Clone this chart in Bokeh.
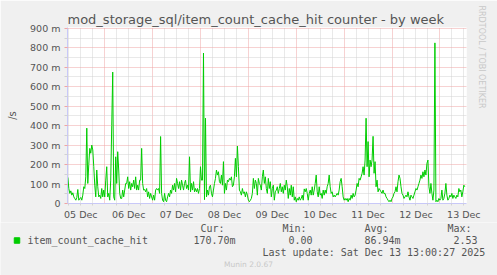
from datetime import datetime, timedelta
from bokeh.plotting import figure
from bokeh.layouts import column
from bokeh.models import Range1d, FixedTicker, DatetimeTickFormatter, Title
from bokeh.core.properties import value
from bokeh.embed import file_html
from bokeh.resources import INLINE

title_text = "mod_storage_sql/item_count_cache_hit counter - by week"
series_name = "item_count_cache_hit"
unit_label = "/s"
start_time = datetime(2025, 12, 5, 5, 30)
step_minutes = 30

# values in milli-units (m), one per 30-minute sample
values_m = [
    134, 77, 52, 65, 43, 55, 34, 25, 17, 31, 72, 17, 25, 31, 17, 43, 86, 77, 137, 387,
    103, 200, 283, 258, 300, 275, 189, 94, 34, 172, 86, 34, 43, 26, 77, 34, 69, 34, 120, 189,
    34, 52, 17, 120, 400, 675, 34, 17, 240, 103, 266, 172, 52, 26, 26, 69, 34, 69, 103, 103,
    137, 77, 112, 69, 103, 86, 120, 77, 137, 69, 94, 69, 120, 120, 283, 103, 69, 72, 60, 77,
    34, 60, 26, 52, 34, 17, 43, 17, 69, 77, 69, 77, 52, 344, 52, 17, 9, 52, 17, 9,
    34, 52, 34, 69, 52, 94, 69, 103, 60, 129, 103, 77, 112, 69, 120, 94, 69, 103, 120, 77,
    94, 69, 240, 60, 103, 69, 112, 60, 77, 60, 77, 52, 77, 189, 120, 120, 773, 20, 438, 34,
    69, 43, 86, 94, 52, 34, 69, 103, 129, 172, 146, 163, 112, 103, 146, 94, 215, 52, 103, 69,
    120, 112, 129, 120, 137, 86, 94, 137, 232, 137, 295, 189, 69, 60, 43, 77, 52, 60, 34, 60,
    43, 17, 9, 17, 26, 52, 129, 77, 120, 103, 43, 129, 103, 94, 69, 137, 172, 103, 137, 77,
    52, 129, 77, 112, 34, 77, 94, 17, 60, 69, 86, 52, 77, 103, 60, 86, 52, 94, 69, 120,
    86, 26, 77, 43, 94, 34, 86, 17, 34, 9, 26, 17, 34, 17, 26, 43, 17, 75, 60, 77,
    52, 17, 52, 69, 43, 86, 43, 69, 103, 146, 60, 34, 86, 43, 52, 26, 69, 43, 69, 52,
    86, 103, 146, 86, 52, 60, 34, 43, 34, 43, 52, 43, 69, 112, 129, 86, 34, 17, 26, 17,
    26, 9, 26, 17, 43, 26, 52, 34, 43, 69, 103, 86, 129, 120, 137, 155, 189, 146, 223, 438,
    189, 318, 137, 223, 189, 223, 345, 155, 215, 86, 120, 60, 77, 69, 60, 52, 69, 50, 52, 34,
    26, 17, 9, 17, 9, 26, 34, 52, 60, 86, 60, 112, 146, 129, 86, 52, 43, 26, 34, 43,
    34, 60, 34, 17, 43, 34, 26, 43, 60, 77, 69, 86, 103, 120, 146, 129, 163, 137, 172, 146,
    206, 223, 86, 52, 103, 52, 17, 69, 825, 9, 17, 9, 26, 17, 26, 69, 17, 26, 52, 103,
    43, 17, 26, 43, 34, 52, 26, 43, 34, 26, 43, 34, 77, 60, 69, 34, 60, 94, 86,
]

y_ticks = [0, 100, 200, 300, 400, 500, 600, 700, 800, 900]
y_minor_ticks = [50, 150, 250, 350, 450, 550, 650, 750, 850]
y_tick_labels = ["0", "100 m", "200 m", "300 m", "400 m", "500 m", "600 m", "700 m", "800 m", "900 m"]
day_numbers = [5, 6, 7, 8, 9, 10, 11, 12, 13]

stat_headers = ["Cur:", "Min:", "Avg:", "Max:"]
stat_values = ["170.70m", "0.00", "86.94m", "2.53"]
last_update = "Last update: Sat Dec 13 13:00:27 2025"
version_text = "Munin 2.0.67"
side_text = "RRDTOOL / TOBI OETIKER"

EPOCH = datetime(1970, 1, 1)
def ms(dt):
    return (dt - EPOCH).total_seconds() * 1000.0

times = [start_time + timedelta(minutes=step_minutes * i) for i in range(len(values_m))]

noons = [ms(datetime(2025, 12, d, 12)) for d in day_numbers]
midnights = [ms(datetime(2025, 12, d, 0)) for d in day_numbers[1:]]
six_hours = []
t = datetime(2025, 12, 5, 6)
while t <= datetime(2025, 12, 13, 12):
    if t.hour != 0:
        six_hours.append(ms(t))
    t += timedelta(hours=6)

W = 497
H1, H2 = 222, 53
FL, FR, FT, FB = 67, 30, 27, 19

bg = "#F0F0F0"
axis_color = "#C8C8F8"
text_color = "#555555"
red_grid = "#EFA5A5"
gray_grid = "#D2D2D2"
light_text = "#C8C8C8"
green = "#00CC00"
NB = "\u00A0"


def disable_frame_align(fig):
    if "frame_align" in fig.properties():
        fig.frame_align = False
        return True
    return False


def build_main(height, bottom):
    p = figure(width=W, height=height, output_backend="svg", toolbar_location=None,
               x_axis_type="datetime",
               x_range=Range1d(datetime(2025, 12, 5, 5, 20), datetime(2025, 12, 13, 13, 20)),
               y_range=Range1d(0, 904),
               min_border_left=FL, min_border_right=FR, min_border_top=FT,
               min_border_bottom=bottom)
    p.background_fill_color = "white"
    p.border_fill_color = bg
    p.outline_line_color = None

    p.title.text = title_text
    p.title.align = "left"
    p.title.offset = 0
    p.title.standoff = 1
    p.title.text_font = "DejaVu Sans"
    p.title.text_font_size = "13px"
    p.title.text_font_style = "normal"
    p.title.text_color = text_color

    p.add_layout(Title(text=side_text, align="left", offset=-22, standoff=20,
                       text_font="DejaVu Sans", text_font_size="8px",
                       text_font_style="normal", text_color=light_text), "right")

    p.line(times, values_m, line_color=green, line_width=1)

    p.xaxis.ticker = FixedTicker(ticks=noons, minor_ticks=six_hours)
    fmt = "%d %b"
    p.xaxis.formatter = DatetimeTickFormatter(microseconds=fmt, milliseconds=fmt, seconds=fmt,
                                              minsec=fmt, minutes=fmt, hourmin=fmt, hours=fmt,
                                              days=fmt, months=fmt, years=fmt)
    p.xaxis.major_tick_out = 0
    p.xaxis.major_tick_in = 0
    p.xaxis.minor_tick_out = 2
    p.xaxis.minor_tick_in = 0
    p.xaxis.minor_tick_line_color = gray_grid
    p.xaxis.axis_line_color = axis_color
    p.xaxis.major_label_text_font = "DejaVu Sans"
    p.xaxis.major_label_text_font_size = "9.5px"
    p.xaxis.major_label_text_color = text_color
    p.xaxis.major_label_standoff = 3

    p.yaxis.ticker = FixedTicker(ticks=y_ticks, minor_ticks=y_minor_ticks)
    p.yaxis.major_label_overrides = {v: s for v, s in zip(y_ticks, y_tick_labels)}
    p.yaxis.major_tick_out = 3
    p.yaxis.major_tick_in = 0
    p.yaxis.minor_tick_out = 3
    p.yaxis.minor_tick_in = 0
    p.yaxis.major_tick_line_color = red_grid
    p.yaxis.minor_tick_line_color = gray_grid
    p.yaxis.axis_line_color = axis_color
    p.yaxis.major_label_text_font = "DejaVu Sans"
    p.yaxis.major_label_text_font_size = "9.5px"
    p.yaxis.major_label_text_color = text_color
    p.yaxis.major_label_standoff = 4
    p.yaxis.axis_label = unit_label
    p.yaxis.axis_label_text_font = "DejaVu Sans"
    p.yaxis.axis_label_text_font_size = "10px"
    p.yaxis.axis_label_text_font_style = "normal"
    p.yaxis.axis_label_text_color = text_color
    p.yaxis.axis_label_standoff = 9

    p.xgrid.ticker = FixedTicker(ticks=midnights, minor_ticks=six_hours)
    p.xgrid.grid_line_color = red_grid
    p.xgrid.grid_line_dash = "1 1"
    p.xgrid.minor_grid_line_color = gray_grid
    p.xgrid.minor_grid_line_dash = "1 1"
    p.ygrid.ticker = FixedTicker(ticks=y_ticks[1:], minor_ticks=y_minor_ticks)
    p.ygrid.grid_line_color = red_grid
    p.ygrid.grid_line_dash = "1 1"
    p.ygrid.minor_grid_line_color = gray_grid
    p.ygrid.minor_grid_line_dash = "1 1"
    return p


p = build_main(H1, FB)

# legend / statistics panel (page pixel coordinates, y downward)
q = figure(width=W, height=H2, output_backend="svg", toolbar_location=None,
           x_range=Range1d(0, W), y_range=Range1d(H1 + H2, H1),
           x_axis_location=None, y_axis_location=None,
           min_border_left=0, min_border_right=0, min_border_top=0, min_border_bottom=0)
q.background_fill_color = bg
q.border_fill_color = bg
q.outline_line_color = None
q.grid.visible = False

ok = disable_frame_align(p) and disable_frame_align(q)

if ok:
    mono = value("DejaVu Sans Mono")
    q.scatter(x=[16.5], y=[240], marker="square", size=5.5, fill_color=green,
              line_color=green)
    q.text(x=[27], y=[240], text=[series_name], text_font=mono, text_font_size="10px",
           text_color=text_color, text_baseline="middle", text_align="left")
    header_x = [200, 282, 364, 447]
    value_x = [193, 288, 364, 453]
    q.text(x=header_x, y=[227.5] * 4, text=stat_headers, text_font=mono,
           text_font_size="10px", text_color=text_color, text_baseline="middle",
           text_align="left")
    q.text(x=value_x, y=[239.5] * 4, text=stat_values, text_font=mono,
           text_font_size="10px", text_color=text_color, text_baseline="middle",
           text_align="left")
    q.text(x=[262], y=[252], text=[last_update], text_font=mono, text_font_size="10px",
           text_color=text_color, text_baseline="middle", text_align="left")
    q.text(x=[248], y=[264], text=[version_text], text_font=value("DejaVu Sans"),
           text_font_size="7.5px", text_color=light_text, text_baseline="middle",
           text_align="center")
    root = column(p, q, spacing=0)
else:
    p = build_main(H1 + H2, FB + H2)

    def pad_columns(items, cols):
        out = ""
        for s, c in zip(items, cols):
            out += NB * max(0, c - len(out)) + s
        return out

    rows = [
        (pad_columns(stat_headers, [0, 14, 27, 41]), 200, "DejaVu Sans Mono", "10px", text_color),
        ("\u25A0" + NB + NB + pad_columns([series_name] + stat_values, [0, 28, 43, 56, 71]),
         14, "DejaVu Sans Mono", "10px", text_color),
        (last_update, 262, "DejaVu Sans Mono", "10px", text_color),
        (version_text, 223, "DejaVu Sans", "7.5px", light_text),
    ]
    for txt, x0, font, size, col in rows:
        p.add_layout(Title(text=txt, align="left", offset=x0 - FL, standoff=1,
                           text_font=font, text_font_size=size,
                           text_font_style="normal", text_color=col), "below")
    root = p

open("out.html", "w").write(file_html(root, INLINE))
